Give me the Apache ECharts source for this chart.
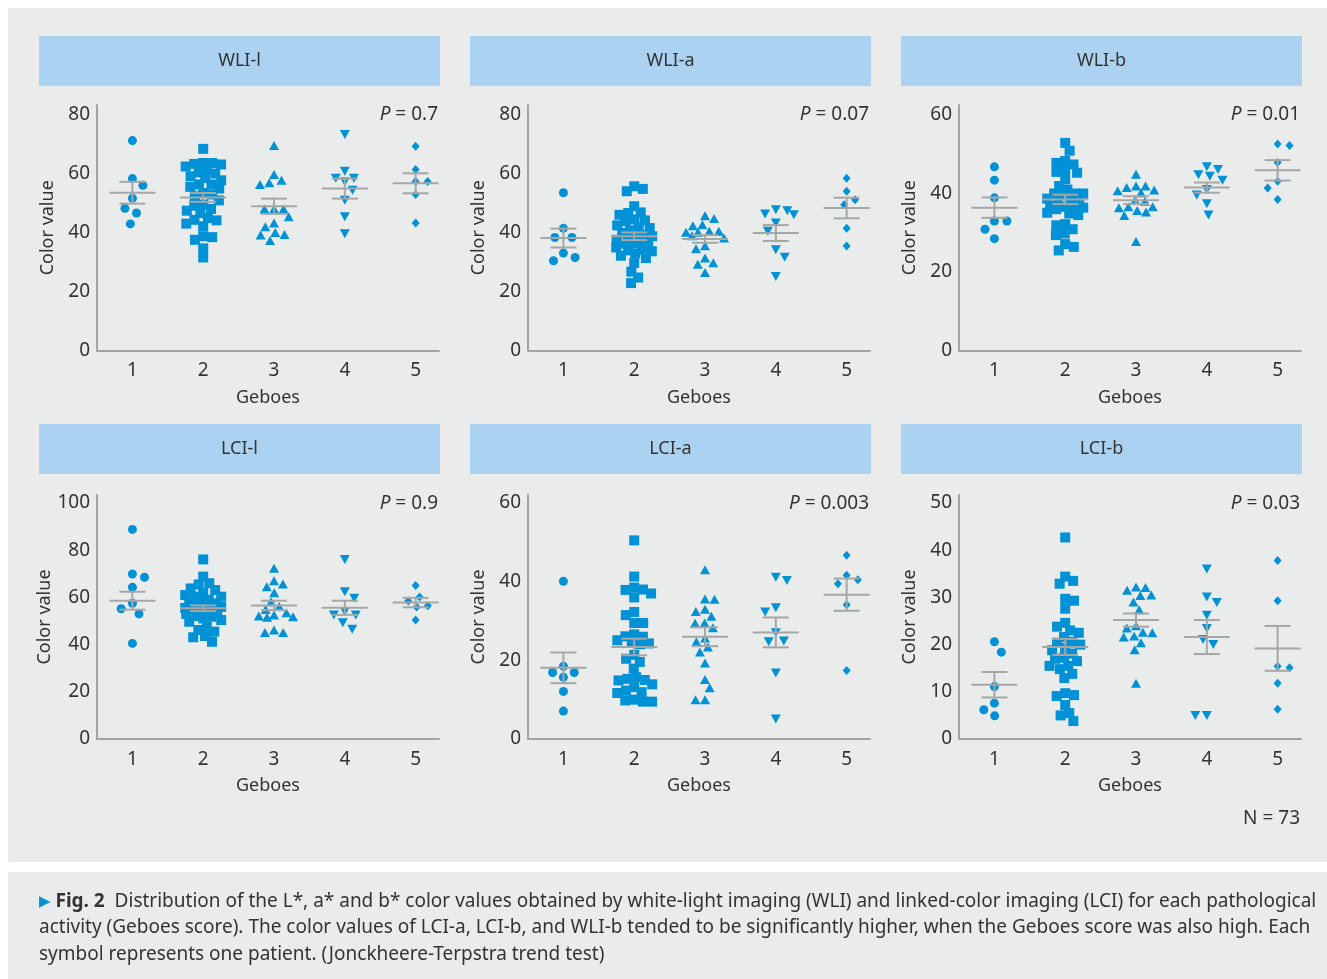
<!DOCTYPE html>
<html>
<head>
<meta charset="utf-8">
<script src="https://cdn.jsdelivr.net/npm/echarts@6/dist/echarts.min.js"></script>
<style>html,body{margin:0;padding:0;background:#fff}#c{width:1327px;height:979px}</style>
</head>
<body>
<div id="c"></div>
<script>
// ---------- data ----------
const geboesLabels = ['1', '2', '3', '4', '5'];

const wliL = [
  [71.3, 58.4, 56.1, 51.7, 48.3, 46.7, 43.0],
  [68.5, 63.4, 63.7, 63.2, 63.7, 61.5, 58.6, 59.2, 60.1, 57.8, 56.4, 56.4, 55.6, 52.4, 53.5, 49.6, 48.1, 49.2, 46.7, 45.0, 44.2, 44.4, 43.1, 42.2, 38.5, 37.6, 38.8, 34.7, 31.6, 62.5, 55.0, 51.0, 47.5, 60.5, 53.0],
  [69.6, 57.8, 56.4, 57.0, 59.8, 48.1, 48.1, 48.1, 45.4, 43.3, 42.0, 39.4, 39.2, 40.1, 37.4],
  [73.4, 60.9, 58.5, 58.5, 57.3, 54.4, 51.0, 45.4, 39.7],
  [69.4, 61.5, 57.4, 57.4, 53.0, 43.3]
];
const wliL_mean = [53.6, 52.0, 49.0, 55.0, 56.8];
const wliL_sem = [3.7, 1.5, 2.6, 3.4, 3.4];

const wliA = [
  [53.6, 41.5, 38.4, 38.4, 33.1, 31.6, 30.5],
  [54.9, 54.1, 55.8, 49.0, 46.9, 46.1, 46.7, 43.9, 44.2, 41.6, 40.8, 41.8, 39.3, 38.8, 39.3, 37.6, 36.5, 36.3, 36.5, 34.0, 33.7, 34.2, 31.4, 29.7, 32.2, 26.8, 22.9, 24.8, 44.5, 40.0, 38.0, 37.0, 35.0, 33.0, 42.5],
  [45.8, 44.8, 42.7, 42.4, 40.5, 40.2, 40.2, 40.5, 39.0, 38.2, 35.6, 34.6, 31.4, 29.8, 29.3, 26.5],
  [47.8, 46.1, 46.4, 47.5, 43.3, 40.5, 34.2, 31.7, 25.1],
  [58.5, 54.1, 51.2, 49.5, 41.5, 35.5]
];
const wliA_mean = [38.2, 38.8, 37.9, 39.9, 48.4];
const wliA_sem = [3.2, 1.3, 1.3, 2.7, 3.5];

const wliB = [
  [46.8, 43.4, 38.9, 33.0, 33.0, 30.9, 28.5],
  [52.9, 50.9, 48.3, 47.8, 47.4, 45.5, 45.3, 46.0, 43.6, 41.9, 40.0, 40.0, 40.0, 38.3, 38.7, 36.6, 36.4, 36.8, 36.6, 35.1, 34.5, 34.9, 31.9, 32.2, 30.9, 29.8, 29.4, 27.1, 26.4, 25.5, 39.5, 37.5, 41.0, 38.0, 36.0],
  [44.9, 41.9, 41.9, 41.5, 40.9, 40.7, 40.2, 38.3, 38.0, 36.6, 36.6, 36.4, 35.7, 35.3, 34.4, 27.8],
  [46.1, 46.8, 44.4, 44.8, 43.4, 41.0, 39.6, 37.4, 34.5],
  [52.6, 52.2, 47.9, 43.1, 41.4, 38.5]
];
const wliB_mean = [36.4, 38.5, 38.3, 41.5, 45.9];
const wliB_sem = [2.6, 1.2, 1.0, 1.3, 2.6];

const lciL = [
  [88.8, 69.9, 68.5, 64.3, 57.5, 55.2, 53.0, 40.5],
  [76.1, 68.8, 65.5, 66.0, 63.1, 63.8, 60.3, 61.0, 60.3, 57.5, 57.8, 56.8, 54.7, 55.4, 54.7, 54.0, 51.8, 52.1, 51.1, 49.7, 50.4, 47.6, 46.2, 45.5, 43.6, 43.1, 41.2, 59.0, 58.5, 56.0, 55.5, 53.5, 53.0, 62.0, 57.0],
  [72.3, 65.7, 67.1, 64.5, 62.0, 58.2, 54.9, 56.1, 52.5, 53.5, 51.8, 51.6, 52.1, 46.2, 45.1, 45.1],
  [76.1, 62.4, 59.6, 52.5, 52.5, 54.0, 49.3, 46.5],
  [65.0, 60.2, 58.5, 56.5, 55.9, 50.4]
];
const lciL_mean = [58.6, 55.4, 56.6, 55.6, 57.8];
const lciL_sem = [3.8, 1.2, 2.0, 3.0, 2.0];

const lciA = [
  [40.1, 18.5, 16.9, 16.9, 15.7, 12.1, 7.1],
  [50.5, 41.3, 38.0, 38.5, 37.0, 36.0, 37.9, 32.3, 31.5, 29.5, 29.5, 26.0, 26.6, 26.1, 25.1, 24.4, 24.1, 24.3, 21.4, 20.4, 19.6, 17.9, 15.3, 15.7, 14.9, 13.9, 13.2, 11.9, 11.7, 12.3, 10.0, 9.5, 9.5, 9.8, 15.0],
  [43.0, 35.5, 35.6, 33.0, 32.4, 31.2, 29.4, 29.5, 28.3, 25.7, 24.7, 23.4, 22.1, 19.3, 15.1, 13.0, 10.0, 10.0],
  [40.3, 41.1, 33.4, 32.3, 27.0, 24.7, 24.9, 16.8, 5.1],
  [46.7, 41.6, 40.5, 39.5, 34.1, 17.4]
];
const lciA_mean = [18.1, 23.4, 26.0, 27.1, 36.7];
const lciA_sem = [3.9, 2.1, 2.4, 3.8, 4.1];

const lciB = [
  [18.4, 20.6, 11.1, 7.6, 6.2, 4.9],
  [42.7, 34.4, 33.5, 32.9, 29.7, 29.3, 27.6, 24.6, 23.8, 22.5, 21.6, 20.6, 20.4, 19.3, 18.8, 18.1, 17.2, 16.5, 15.5, 15.5, 14.8, 13.8, 12.9, 9.7, 9.1, 9.3, 7.2, 5.5, 5.0, 3.8, 23.0, 20.0, 17.0],
  [32.2, 31.5, 32.1, 30.5, 30.4, 29.0, 27.4, 23.5, 24.0, 22.5, 22.6, 21.8, 21.6, 20.4, 18.9, 11.8],
  [36.0, 30.1, 28.9, 26.2, 23.4, 21.1, 20.0, 5.0, 5.0],
  [37.8, 29.3, 15.1, 15.4, 11.8, 6.3]
];
const lciB_mean = [11.5, 19.5, 25.2, 21.6, 19.2];
const lciB_sem = [2.7, 1.7, 1.4, 3.6, 4.75];

const panelTitles = ['WLI-l', 'WLI-a', 'WLI-b', 'LCI-l', 'LCI-a', 'LCI-b'];
const pValues = ['0.7', '0.07', '0.01', '0.9', '0.003', '0.03'];
const yTops = [80, 80, 60, 100, 60, 50];
const yIntervals = [20, 20, 20, 20, 20, 10];
const totalN = 73;

// ---------- layout / style ----------
const FONT = 'Noto Sans';
const TXT = '#333333';
const BLUE = '#0091d6';
const GREY = '#a6a6a6';
const AXIS = '#a3a3a3';
const HEAD = '#abd3f1';
const BG = '#eaeceb';

const groupData = [wliL, wliA, wliB, lciL, lciA, lciB];
const groupMean = [wliL_mean, wliA_mean, wliB_mean, lciL_mean, lciA_mean, lciB_mean];
const groupSem = [wliL_sem, wliA_sem, wliB_sem, lciL_sem, lciA_sem, lciB_sem];

const colLeft = [97, 528, 959];
const gridW = 342;
const rowTop = [105, 495];
const rowH = [245.5, 244];
const rowPad = [10, 8];
const headTop = [36, 424];
const X_MIN = 0.5, X_MAX = 5.33;
const pxPerX = gridW / (X_MAX - X_MIN);

// marker shapes per Geboes group; d = collision distance, w = max half-width of the swarm (px)
const shapes = [
  { symbol: 'circle', size: 9, rot: 0, d: 12.5, w: 14 },
  { symbol: 'rect', size: 10, rot: 0, d: 9, w: 18 },
  { symbol: 'triangle', size: [10, 9], rot: 0, d: 9.5, w: 19 },
  { symbol: 'triangle', size: [10, 9], rot: 180, d: 11.5, w: 18 },
  { symbol: 'diamond', size: [8, 9], rot: 0, d: 12, w: 14 }
];

// beeswarm: smallest |x| keeping distance d, bounded by half-width w (overlap allowed when crowded)
function swarm(values, pxY, d, w) {
  const idx = values.map((v, i) => i).sort((a, b) => values[b] - values[a]);
  const placed = [];
  const out = new Array(values.length);
  let pref = 1;
  idx.forEach(i => {
    const y = values[i] * pxY;
    const near = placed.filter(p => Math.abs(p.y - y) < d);
    const cands = [0];
    near.forEach(p => {
      const ww = Math.sqrt(d * d - (p.y - y) * (p.y - y));
      cands.push(p.x + ww, p.x - ww);
    });
    const dist2 = x => near.reduce((m, p) => Math.min(m, (p.x - x) * (p.x - x) + (p.y - y) * (p.y - y)), Infinity);
    let best = null;
    cands.forEach(x => {
      if (Math.abs(x) > w + 0.01) return;
      if (dist2(x) < d * d - 0.01) return;
      if (best === null) { best = x; return; }
      const ax = Math.abs(x), ab = Math.abs(best);
      if (ax < ab - 0.3) best = x;
      else if (Math.abs(ax - ab) <= 0.3 && Math.sign(x) === pref) best = x;
    });
    if (best === null) {
      let bd = -1;
      for (let k = 0; k <= 2 * w; k++) {
        const x = (k % 2 ? 1 : -1) * pref * Math.ceil(k / 2);
        if (Math.abs(x) > w) continue;
        const dd = dist2(x);
        if (dd > bd + 0.5) { bd = dd; best = x; }
      }
    }
    if (best !== 0) pref = best > 0 ? -1 : 1;
    placed.push({ y, x: best });
    out[i] = best;
  });
  return out;
}

const grids = [], xAxes = [], yAxes = [], series = [], titles = [], graphics = [];

graphics.push({ type: 'rect', shape: { x: 8, y: 8, width: 1319, height: 854 }, style: { fill: BG }, z: -10 });
graphics.push({ type: 'rect', shape: { x: 8, y: 872, width: 1319, height: 107 }, style: { fill: BG }, z: -10 });

for (let p = 0; p < 6; p++) {
  const r = Math.floor(p / 3), c = p % 3;
  const top = rowTop[r], h = rowH[r], left = colLeft[c];
  const yTop = yTops[p], yInt = yIntervals[p];
  const pxY = (h - rowPad[r]) / yTop;
  const yMax = yTop + rowPad[r] / pxY;

  grids.push({ left: left, top: top, width: gridW, height: h });

  xAxes.push({
    gridIndex: p, type: 'value', min: X_MIN, max: X_MAX, interval: 0.5,
    axisLine: { show: true, onZero: false, lineStyle: { color: AXIS, width: 2 } },
    axisTick: { show: false }, splitLine: { show: false },
    axisLabel: {
      formatter: v => (Math.abs(v - Math.round(v)) < 1e-6 && v >= 1 && v <= 5) ? geboesLabels[Math.round(v) - 1] : '',
      margin: 11, fontSize: 19, color: TXT, fontFamily: FONT
    },
    name: 'Geboes', nameLocation: 'middle', nameGap: 38,
    nameTextStyle: { fontSize: 18, color: TXT, fontFamily: FONT }
  });

  yAxes.push({
    gridIndex: p, type: 'value', min: 0, max: yMax, interval: yInt,
    axisLine: { show: true, lineStyle: { color: AXIS, width: 2 } },
    axisTick: { show: false }, splitLine: { show: false },
    axisLabel: {
      formatter: v => (Math.abs(v / yInt - Math.round(v / yInt)) < 1e-6 && v <= yTop + 1e-6) ? String(Math.round(v)) : '',
      margin: 7, fontSize: 19, color: TXT, fontFamily: FONT
    },
    name: 'Color value', nameLocation: 'middle', nameGap: 40,
    nameTextStyle: { fontSize: 18, color: TXT, fontFamily: FONT }
  });

  for (let g = 0; g < 5; g++) {
    const vals = groupData[p][g];
    const sh = shapes[g];
    const offs = swarm(vals, pxY, sh.d, sh.w);
    series.push({
      type: 'scatter', xAxisIndex: p, yAxisIndex: p,
      symbol: sh.symbol, symbolSize: sh.size, symbolRotate: sh.rot,
      itemStyle: { color: BLUE, opacity: 1 },
      emphasis: { disabled: true }, silent: true, z: 3,
      data: vals.map((v, i) => [g + 1 + offs[i] / pxPerX, v])
    });
  }

  series.push({
    type: 'custom', xAxisIndex: p, yAxisIndex: p, silent: true, z: 5,
    data: groupMean[p].map((m, g) => [g + 1, m, groupSem[p][g]]),
    renderItem: function (params, api) {
      const x = api.value(0), m = api.value(1), s = api.value(2);
      const cpt = api.coord([x, m]);
      const hi = api.coord([x, m + s]);
      const lo = api.coord([x, m - s]);
      const st = { stroke: GREY, lineWidth: 2 };
      return {
        type: 'group', children: [
          { type: 'line', shape: { x1: cpt[0] - 23, y1: cpt[1], x2: cpt[0] + 23, y2: cpt[1] }, style: st },
          { type: 'line', shape: { x1: cpt[0], y1: hi[1], x2: cpt[0], y2: lo[1] }, style: st },
          { type: 'line', shape: { x1: cpt[0] - 13, y1: hi[1], x2: cpt[0] + 13, y2: hi[1] }, style: st },
          { type: 'line', shape: { x1: cpt[0] - 13, y1: lo[1], x2: cpt[0] + 13, y2: lo[1] }, style: st }
        ]
      };
    }
  });

  // header band
  const hx = left - 58;
  graphics.push({ type: 'rect', shape: { x: hx, y: headTop[r], width: 401, height: 50 }, style: { fill: HEAD }, z: -5 });
  graphics.push({
    type: 'text', x: hx + 200.5, y: headTop[r] + 25,
    style: { text: panelTitles[p], fontSize: 18, fontFamily: FONT, fill: TXT, align: 'center', verticalAlign: 'middle' }, z: 1
  });

  // P value
  titles.push({
    text: '{i|P} = ' + pValues[p],
    right: 1327 - (left + 341), top: top - (r === 0 ? 0 : 1), padding: 0,
    textStyle: {
      fontSize: 19, color: TXT, fontFamily: FONT, fontWeight: 'normal',
      rich: { i: { fontStyle: 'italic', fontSize: 19, color: TXT, fontFamily: FONT } }
    }
  });
}

graphics.push({
  type: 'text', x: 1300, y: 819,
  style: { text: 'N = ' + totalN, fontSize: 19, fontFamily: FONT, fill: TXT, align: 'right', verticalAlign: 'middle' }
});

const capLines = [
  '{t|▶} {b|Fig. 2}  Distribution of the L*, a* and b* color values obtained by white-light imaging (WLI) and linked-color imaging (LCI) for each pathological',
  'activity (Geboes score). The color values of LCI-a, LCI-b, and WLI-b tended to be significantly higher, when the Geboes score was also high. Each',
  'symbol represents one patient. (Jonckheere-Terpstra trend test)'
];
const capY = [902, 928, 955];
capLines.forEach((t, i) => {
  graphics.push({
    type: 'text', x: 39, y: capY[i],
    style: {
      text: t, fontSize: 19, fontFamily: FONT, fill: TXT, align: 'left', verticalAlign: 'middle',
      rich: {
        t: { fill: BLUE, fontSize: 15, fontFamily: 'DejaVu Sans' },
        b: { fontWeight: 'bold', fontSize: 19, fontFamily: FONT, fill: TXT }
      }
    }
  });
});

const chart = echarts.init(document.getElementById('c'), null, { renderer: 'canvas' });
chart.setOption({
  backgroundColor: '#ffffff',
  animation: false,
  title: titles,
  grid: grids,
  xAxis: xAxes,
  yAxis: yAxes,
  series: series,
  graphic: { elements: graphics }
});
</script>
</body>
</html>
